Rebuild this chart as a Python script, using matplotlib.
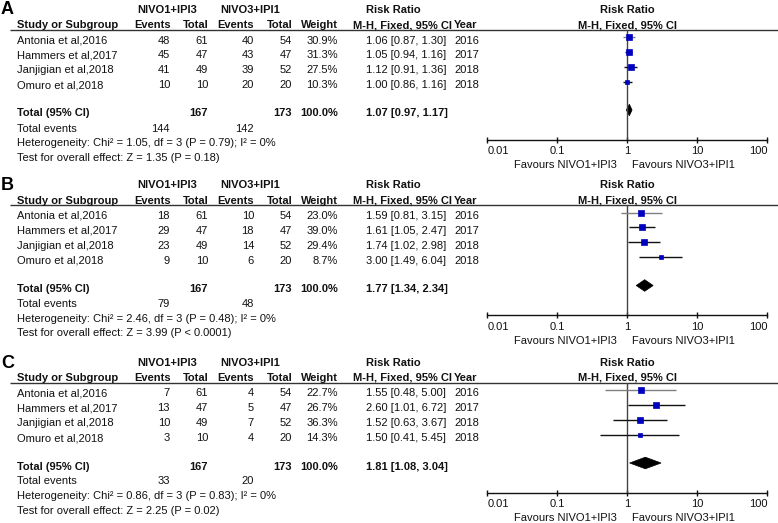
import matplotlib
matplotlib.use("Agg")
import matplotlib.pyplot as plt
import numpy as np
from matplotlib.ticker import NullLocator

plt.rcParams['font.family'] = ['Liberation Sans', 'DejaVu Sans']

# ---------------- data ----------------
studies = ["Antonia et al,2016", "Hammers et al,2017", "Janjigian et al,2018", "Omuro et al,2018"]
years = ["2016", "2017", "2018", "2018"]
n1 = [61, 47, 49, 10]
n2 = [54, 47, 52, 20]
group1 = "NIVO1+IPI3"
group2 = "NIVO3+IPI1"
tick_values = [0.01, 0.1, 1, 10, 100]
tick_labels = ["0.01", "0.1", "1", "10", "100"]
panel_letters = ["A", "B", "C"]
total_weight = "100.0%"

# Panel A
a_ev1 = [48, 45, 41, 10]
a_ev2 = [40, 43, 39, 20]
a_weight = [30.9, 31.3, 27.5, 10.3]
a_rr = [1.06, 1.05, 1.12, 1.00]
a_lo = [0.87, 0.94, 0.91, 0.86]
a_hi = [1.30, 1.16, 1.36, 1.16]
a_total = [1.07, 0.97, 1.17]
a_het = "Heterogeneity: Chi² = 1.05, df = 3 (P = 0.79); I² = 0%"
a_test = "Test for overall effect: Z = 1.35 (P = 0.18)"

# Panel B
b_ev1 = [18, 29, 23, 9]
b_ev2 = [10, 18, 14, 6]
b_weight = [23.0, 39.0, 29.4, 8.7]
b_rr = [1.59, 1.61, 1.74, 3.00]
b_lo = [0.81, 1.05, 1.02, 1.49]
b_hi = [3.15, 2.47, 2.98, 6.04]
b_total = [1.77, 1.34, 2.34]
b_het = "Heterogeneity: Chi² = 2.46, df = 3 (P = 0.48); I² = 0%"
b_test = "Test for overall effect: Z = 3.99 (P < 0.0001)"

# Panel C
c_ev1 = [7, 13, 10, 3]
c_ev2 = [4, 5, 7, 4]
c_weight = [22.7, 26.7, 36.3, 14.3]
c_rr = [1.55, 2.60, 1.52, 1.50]
c_lo = [0.48, 1.01, 0.63, 0.41]
c_hi = [5.00, 6.72, 3.67, 5.45]
c_total = [1.81, 1.08, 3.04]
c_het = "Heterogeneity: Chi² = 0.86, df = 3 (P = 0.83); I² = 0%"
c_test = "Test for overall effect: Z = 2.25 (P = 0.02)"

panels = [
    (a_ev1, a_ev2, a_weight, a_rr, a_lo, a_hi, a_total, a_het, a_test),
    (b_ev1, b_ev2, b_weight, b_rr, b_lo, b_hi, b_total, b_het, b_test),
    (c_ev1, c_ev2, c_weight, c_rr, c_lo, c_hi, c_total, c_het, c_test),
]

# ---------------- layout (pixels) ----------------
W, H = 778, 523
LINE_Y = [29.5, 205.0, 382.5]
X0, X1 = 487.3, 767.3        # 0.01 .. 100
AX_H = 110.0                 # header line -> axis line
SQ0, STEP = 7.5, 14.9        # square rows (offset from header line)
TX0 = 11.0                   # text rows
DIAM_Y = 80.5
TXT = '#111111'
BLUE = '#0000c0'
FS = 8

fig = plt.figure(figsize=(W / 100, H / 100), dpi=100)
ov = fig.add_axes([0, 0, 1, 1])
ov.set_xlim(0, W)
ov.set_ylim(H, 0)
ov.axis('off')


def t(x, y, s, ha='left', bold=False, size=FS):
    ov.text(x, y, s, ha=ha, va='center', fontsize=size, color=TXT,
            fontweight='bold' if bold else 'normal')


for p, (ev1, ev2, wt, rr, lo, hi, tot, het, test) in enumerate(panels):
    L = LINE_Y[p]
    # panel letter
    ov.text(1, L - 19.5, panel_letters[p], ha='left', va='center', fontsize=13,
            fontweight='bold', color='black')
    # header row 1
    t(166.7, L - 19.5, group1, ha='center', bold=True)
    t(250, L - 19.5, group2, ha='center', bold=True)
    t(366, L - 19.5, "Risk Ratio", bold=True)
    t(627.3, L - 19.5, "Risk Ratio", ha='center', bold=True)
    # header row 2
    hy = L - 4.5
    t(16.7, hy, "Study or Subgroup", bold=True)
    t(171, hy, "Events", ha='right', bold=True)
    t(208.3, hy, "Total", ha='right', bold=True)
    t(254, hy, "Events", ha='right', bold=True)
    t(292.3, hy, "Total", ha='right', bold=True)
    t(338, hy, "Weight", ha='right', bold=True)
    t(353, hy, "M-H, Fixed, 95% CI", bold=True)
    t(454, hy, "Year", bold=True)
    t(627.3, hy, "M-H, Fixed, 95% CI", ha='center', bold=True)
    ov.plot([10, W], [L, L], color='#333333', lw=1.0, solid_capstyle='butt')

    # study rows
    for i in range(4):
        y = L + TX0 + STEP * i
        t(16.7, y, studies[i])
        t(170, y, str(ev1[i]), ha='right')
        t(208, y, str(n1[i]), ha='right')
        t(254, y, str(ev2[i]), ha='right')
        t(292, y, str(n2[i]), ha='right')
        t(338, y, f"{wt[i]:.1f}%", ha='right')
        t(366, y, f"{rr[i]:.2f} [{lo[i]:.2f}, {hi[i]:.2f}]")
        t(454, y, years[i])
    # total row
    y = L + 84
    t(16.7, y, "Total (95% CI)", bold=True)
    t(208, y, str(sum(n1)), ha='right', bold=True)
    t(292, y, str(sum(n2)), ha='right', bold=True)
    t(338, y, total_weight, ha='right', bold=True)
    t(366, y, f"{tot[0]:.2f} [{tot[1]:.2f}, {tot[2]:.2f}]", bold=True)
    y = L + 99
    t(16.7, y, "Total events")
    t(170, y, str(sum(ev1)), ha='right')
    t(254, y, str(sum(ev2)), ha='right')
    t(16.7, L + 113.8, het)
    t(16.7, L + 128.5, test)
    # favours
    t(617, L + 135.5, f"Favours {group1}", ha='right')
    t(632, L + 135.5, f"Favours {group2}", ha='left')

    # forest axes
    ax = fig.add_axes([X0 / W, 1 - (L + AX_H) / H, (X1 - X0) / W, AX_H / H])
    ax.set_facecolor('none')
    ax.set_xscale('log')
    ax.set_xlim(tick_values[0], tick_values[-1])
    ax.set_ylim(AX_H, 0)
    for s in ['top', 'right', 'left']:
        ax.spines[s].set_visible(False)
    ax.spines['bottom'].set_color('#111111')
    ax.spines['bottom'].set_linewidth(1.0)
    ax.set_yticks([])
    ax.set_xticks(tick_values)
    ax.set_xticklabels(tick_labels)
    ax.xaxis.set_minor_locator(NullLocator())
    ax.tick_params(axis='x', direction='inout', length=5, width=1.0, pad=2.5,
                   labelsize=FS, colors=TXT)
    lbls = ax.get_xticklabels()
    lbls[0].set_horizontalalignment('left')
    lbls[-1].set_horizontalalignment('right')
    ax.axvline(1, color='#444444', lw=1.0)

    ys = SQ0 + STEP * np.arange(4)
    line_cols = ['#808080', '#111111', '#111111', '#111111']
    ax.hlines(ys, lo, hi, colors=line_cols, lw=1.0)
    for i in range(4):
        ms = 0.806 * np.sqrt(wt[i])
        ax.plot(rr[i], ys[i], 's', ms=ms, color=BLUE, mec=BLUE, mew=0.5)
    est, tlo, thi = tot
    ax.fill([tlo, est, thi, est], [DIAM_Y, DIAM_Y - 5.8, DIAM_Y, DIAM_Y + 5.8],
            color='black', lw=0.5)

fig.savefig("out.png", dpi=100)
